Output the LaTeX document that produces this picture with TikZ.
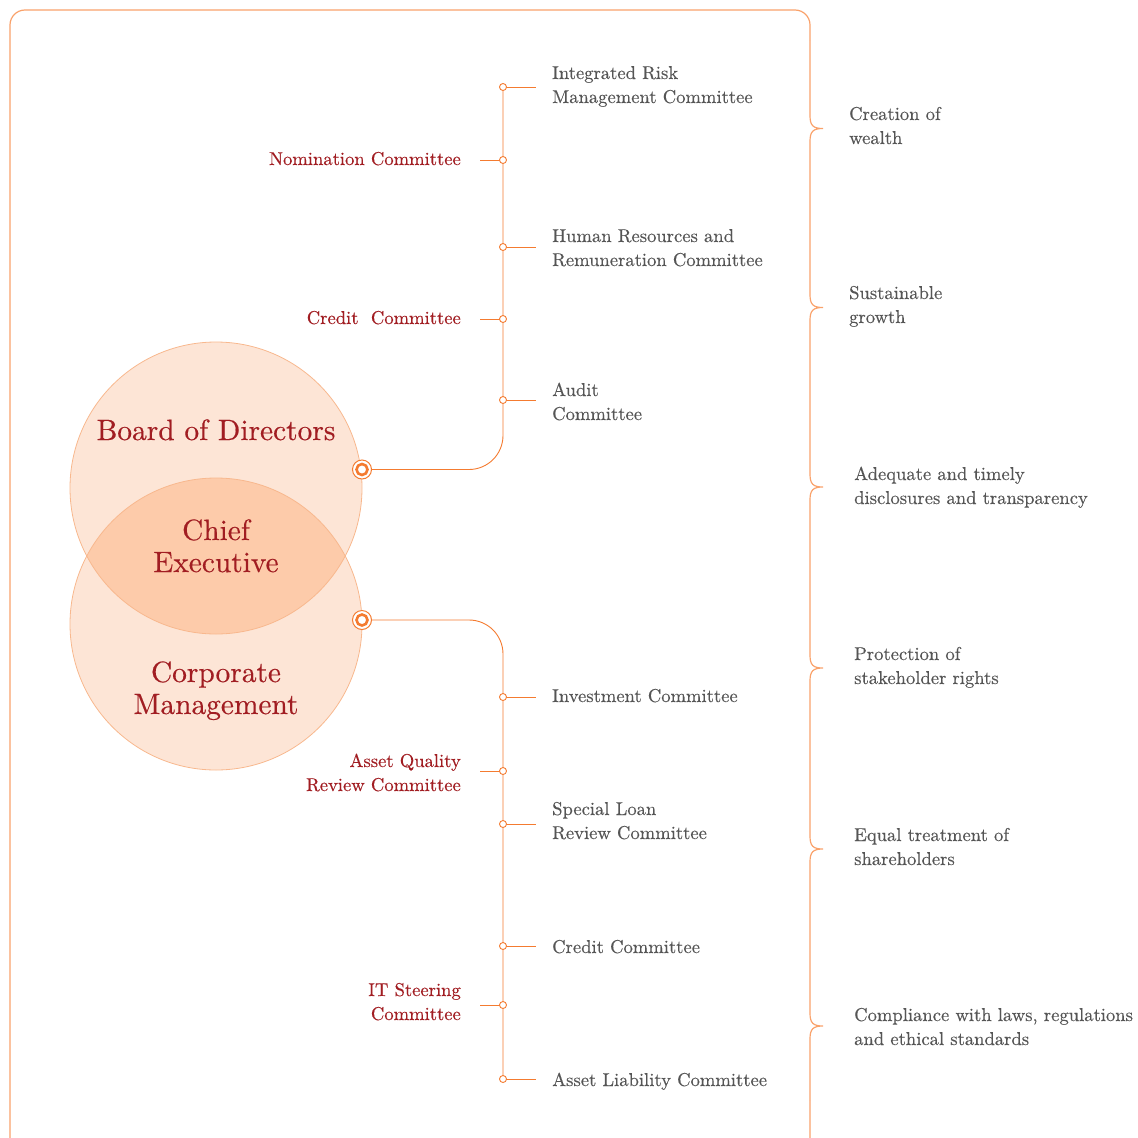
\documentclass[tikz,border=0pt]{standalone}
\usepackage{fontspec}
\setmainfont{lmroman10-regular.otf}[FakeBold=0.35]
\definecolor{frameor}{HTML}{F9A26B}
\definecolor{linkor}{HTML}{F47B30}
\definecolor{comred}{HTML}{A11D22}
\definecolor{txtgray}{HTML}{555555}
\definecolor{peach}{HTML}{FDE5D6}
\definecolor{lensfill}{HTML}{FDCBAA}
\definecolor{vennline}{HTML}{F8B88E}
\pgfdeclarelayer{back}
\pgfsetlayers{back,main}
\begin{document}
\begin{tikzpicture}[x=1pt,y=-1pt,
  frameline/.style={draw=frameor, line width=1.2pt},
  trunk/.style={draw=linkor, line width=0.9pt},
  joint/.style={circle, draw=linkor, fill=white, line width=0.9pt, inner sep=0pt, minimum size=7pt},
  ringout/.style={circle, draw=linkor, fill=white, line width=1pt, inner sep=0pt, minimum size=19pt},
  ringin/.style={circle, draw=linkor, fill=white, line width=2.6pt, inner sep=0pt, minimum size=11pt},
  venn/.style={circle, inner sep=0pt, minimum size=292pt},
  smallfont/.style={font=\fontsize{18.6}{24}\selectfont, inner sep=0pt},
  lefttxt/.style={smallfont, anchor=base east, align=right, text=comred},
  righttxt/.style={smallfont, anchor=base west, align=left, text=txtgray},
  bigtxt/.style={font=\fontsize{29.4}{32}\selectfont, inner sep=0pt, anchor=base, align=center, text=comred}
]
\useasboundingbox (0,0) rectangle (1138,1138);
\clip (0,0) rectangle (1138,1138);

% outer frame: left, top and bottom with rounded corners
\draw[frameline, rounded corners=15pt] (810,40) -- (810,10) -- (10,10) -- (10,1152) -- (810,1152) -- (810,1100);
% right side with brace cusps
\draw[frameline] (810,40)
  \foreach \c in {128.5,307.5,487,668,849,1026} {
    -- (810,\c-13) .. controls (810,\c-3) and (813,\c) .. (823,\c)
    .. controls (813,\c) and (810,\c+3) .. (810,\c+13)
  } -- (810,1100);

% Venn diagram
\node[venn, fill=peach] (board) at (216,488) {};
\node[venn, fill=peach] (corp) at (216,624) {};
\begin{scope}
  \clip (board.center) circle (146pt);
  \fill[lensfill] (corp.center) circle (146pt);
\end{scope}
\draw[vennline, line width=0.8pt] (board.center) circle (146pt);
\draw[vennline, line width=0.8pt] (corp.center) circle (146pt);

% multi-line nodes sit on the baseline of their last line
\node[bigtxt] (boardtxt) at (216,440) {Board of Directors};
\node[bigtxt] (chieftxt) at (216,572) {Chief\\Executive};
\node[bigtxt] (corptxt) at (216,714) {Corporate\\Management};

% markers on the circles
\node[ringout] (m1) at (362,469.5) {};
\node[ringin] (m1c) at (362,469.5) {};
\node[ringout] (m2) at (362,620) {};
\node[ringin] (m2c) at (362,620) {};

% upper tree joints
\node[joint] (ju1) at (503,87) {};
\node[joint] (ju2) at (503,160) {};
\node[joint] (ju3) at (503,247) {};
\node[joint] (ju4) at (503,319) {};
\node[joint] (ju5) at (503,400) {};
% lower tree joints
\node[joint] (jl1) at (503,697) {};
\node[joint] (jl2) at (503,771) {};
\node[joint] (jl3) at (503,824) {};
\node[joint] (jl4) at (503,946) {};
\node[joint] (jl5) at (503,1005) {};
\node[joint] (jl6) at (503,1079) {};

% branch ends
\coordinate (eu1) at (536,87);
\coordinate (eu2) at (480,160);
\coordinate (eu3) at (536,247);
\coordinate (eu4) at (480,319);
\coordinate (eu5) at (536,400);
\coordinate (el1) at (536,697);
\coordinate (el2) at (480,771);
\coordinate (el3) at (536,824);
\coordinate (el4) at (536,946);
\coordinate (el5) at (480,1005);
\coordinate (el6) at (536,1079);

\begin{pgfonlayer}{back}
  \draw[trunk, rounded corners=34pt] (m1.east) -| (ju1.center);
  \draw[trunk, rounded corners=34pt] (m2.east) -| (jl6.center);
  \foreach \j/\e in {ju1/eu1,ju2/eu2,ju3/eu3,ju4/eu4,ju5/eu5,jl1/el1,jl2/el2,jl3/el3,jl4/el4,jl5/el5,jl6/el6}
    \draw[trunk] (\j.center) -- (\e);
\end{pgfonlayer}

% committees
\node[righttxt] (irm) at (552,103) {Integrated Risk\\Management Committee};
\node[lefttxt] (nom) at (461,165) {Nomination Committee};
\node[righttxt] (hrr) at (552,266) {Human Resources and\\Remuneration Committee};
\node[lefttxt] (crb) at (461,324) {Credit~~Committee};
\node[righttxt] (aud) at (552,420) {Audit\\Committee};
\node[righttxt] (inv) at (552,702) {Investment Committee};
\node[lefttxt] (aqr) at (461,791) {Asset Quality\\Review Committee};
\node[righttxt] (slr) at (552,839) {Special Loan\\Review Committee};
\node[righttxt] (crm) at (552,953) {Credit Committee};
\node[lefttxt] (its) at (461,1020) {IT Steering\\Committee};
\node[righttxt] (alc) at (552,1086) {Asset Liability Committee};

% principles
\node[righttxt] (p1) at (849,144) {Creation of\\wealth};
\node[righttxt] (p2) at (849,323) {Sustainable\\growth};
\node[righttxt] (p3) at (854,504) {Adequate and timely\\disclosures and transparency};
\node[righttxt] (p4) at (854,684) {Protection of\\stakeholder rights};
\node[righttxt] (p5) at (854,865) {Equal treatment of\\shareholders};
\node[righttxt] (p6) at (854,1045) {Compliance with laws, regulations\\and ethical standards};
\end{tikzpicture}
\end{document}
